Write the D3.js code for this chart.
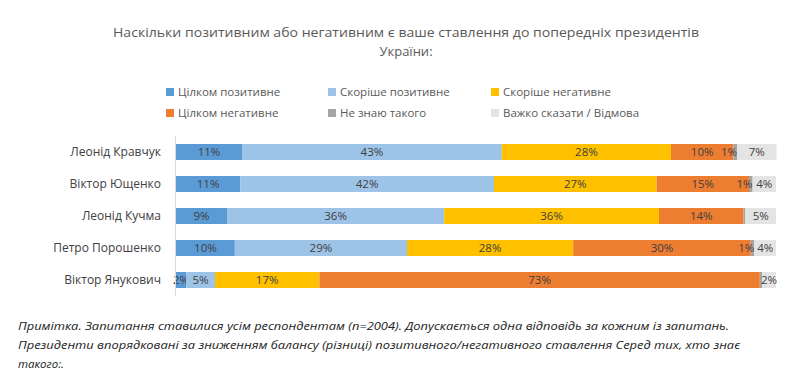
<!DOCTYPE html>
<html>
<head>
<meta charset="utf-8">
<script src="https://cdn.jsdelivr.net/npm/d3@7"></script>
<style>
  body { margin: 0; background: #fff; }
  svg { font-family: "Open Sans", "Noto Sans", sans-serif; }
</style>
</head>
<body>
<div class="wrapper"></div>
<script>
var w = 800, h = 387;

// categories (top to bottom)
var presidents = ["Леонід Кравчук", "Віктор Ющенко", "Леонід Кучма", "Петро Порошенко", "Віктор Янукович"];
var answers = ["Цілком позитивне", "Скоріше позитивне", "Скоріше негативне", "Цілком негативне", "Не знаю такого", "Важко сказати / Відмова"];
var colors = ["#5b9bd5", "#9dc3e6", "#ffc000", "#ed7d31", "#a5a5a5", "#e4e4e4"];

// shares, %, one array per answer
var fullyPositive  = [11.0, 10.7,  8.5,  9.8,  1.7];
var ratherPositive = [43.3, 42.3, 36.2, 28.7,  4.8];
var ratherNegative = [28.2, 27.1, 35.8, 27.7, 17.4];
var fullyNegative  = [10.4, 15.4, 14.1, 29.6, 73.4];
var dontKnow       = [ 0.6,  0.6,  0.3,  0.6,  0.4];
var hardToSay      = [ 6.6,  3.9,  5.1,  3.6,  2.3];
var series = [fullyPositive, ratherPositive, ratherNegative, fullyNegative, dontKnow, hardToSay];

var titleLines = ["Наскільки позитивним або негативним є ваше ставлення до попередніх президентів", "України:"];
var noteLines = [
  "Примітка. Запитання ставилися усім респондентам (n=2004). Допускається одна відповідь за кожним із запитань.",
  "Президенти впорядковані за зниженням балансу (різниці) позитивного/негативного ставлення Серед тих, хто знає",
  "такого:."
];

var svg = d3.select(".wrapper").append("svg")
    .attr("width", w)
    .attr("height", h);

// title
svg.append("g").selectAll("text")
    .data(titleLines)
  .enter().append("text")
    .attr("x", 406)
    .attr("y", function(d, i) { return 37 + i * 19; })
    .attr("text-anchor", "middle")
    .attr("fill", "#595959")
    .style("font-size", "13px")
    .attr("textLength", function(d, i) { return i == 0 ? 586 : null; })
    .attr("lengthAdjust", "spacingAndGlyphs")
    .text(function(d) { return d; });

// legend: 3 columns x 2 rows
var legendX = [166, 328, 491];
var legend = svg.append("g").selectAll("g")
    .data(answers)
  .enter().append("g")
    .attr("transform", function(d, i) { return "translate(" + legendX[i % 3] + "," + (92 + Math.floor(i / 3) * 21) + ")"; });
legend.append("rect")
    .attr("x", 0).attr("y", -4)
    .attr("width", 8).attr("height", 8)
    .attr("fill", function(d, i) { return colors[i]; });
legend.append("text")
    .attr("x", 12)
    .attr("dy", "0.35em")
    .attr("fill", "#595959")
    .style("font-size", "11.5px")
    .text(function(d) { return d; });

// bars
var x = d3.scaleLinear().domain([0, 100]).range([176, 776]);
var y = d3.scaleBand().domain(presidents).range([136, 296]).paddingInner(0.5).paddingOuter(0.25);

var stack = d3.stack().keys(d3.range(series.length)).value(function(d, k) { return series[k][d]; });
var layers = stack(d3.range(presidents.length));

var layer = svg.append("g").selectAll("g")
    .data(layers)
  .enter().append("g")
    .attr("fill", function(d, i) { return colors[i]; });

layer.selectAll("rect")
    .data(function(d) { return d; })
  .enter().append("rect")
    .attr("x", function(d) { return x(d[0]); })
    .attr("y", function(d, i) { return y(presidents[i]); })
    .attr("width", function(d) { return x(d[1]) - x(d[0]); })
    .attr("height", y.bandwidth());

// value labels; the thin "don't know" slivers get theirs ending at the sliver's right edge
layer.each(function(L) {
  var k = L.key, thin = series[k].some(function(v) { return v < 1; });
  d3.select(this).selectAll("text")
      .data(L.filter(function(d) { return series[k][d.data] >= 0.5; }))
    .enter().append("text")
      .attr("x", function(d) { return thin ? x(d[1]) : (x(d[0]) + x(d[1])) / 2; })
      .attr("y", function(d) { return y(presidents[d.data]) + y.bandwidth() / 2; })
      .attr("dy", "0.35em")
      .attr("text-anchor", thin ? "end" : "middle")
      .attr("fill", "#404040")
      .style("font-size", "11.5px")
      .text(function(d) { return Math.round(series[k][d.data]) + "%"; });
});

// category axis
var axis = svg.append("g")
    .attr("transform", "translate(175,0)")
    .call(d3.axisLeft(y).tickSize(0).tickPadding(14));
axis.select(".domain").attr("stroke", "#d9d9d9");
axis.selectAll("text")
    .attr("fill", "#404040")
    .style("font-size", "12px")
    .style("font-family", "\"Open Sans\", sans-serif");

// footnote
svg.append("g").selectAll("text")
    .data(noteLines)
  .enter().append("text")
    .attr("x", 18)
    .attr("y", function(d, i) { return 330 + i * 19; })
    .attr("fill", "#222")
    .style("font-size", "11.5px")
    .style("font-style", "italic")
    .attr("textLength", function(d, i) { return i == 0 ? 711 : (i == 1 ? 722 : null); })
    .attr("lengthAdjust", "spacingAndGlyphs")
    .text(function(d) { return d; });
</script>
</body>
</html>
